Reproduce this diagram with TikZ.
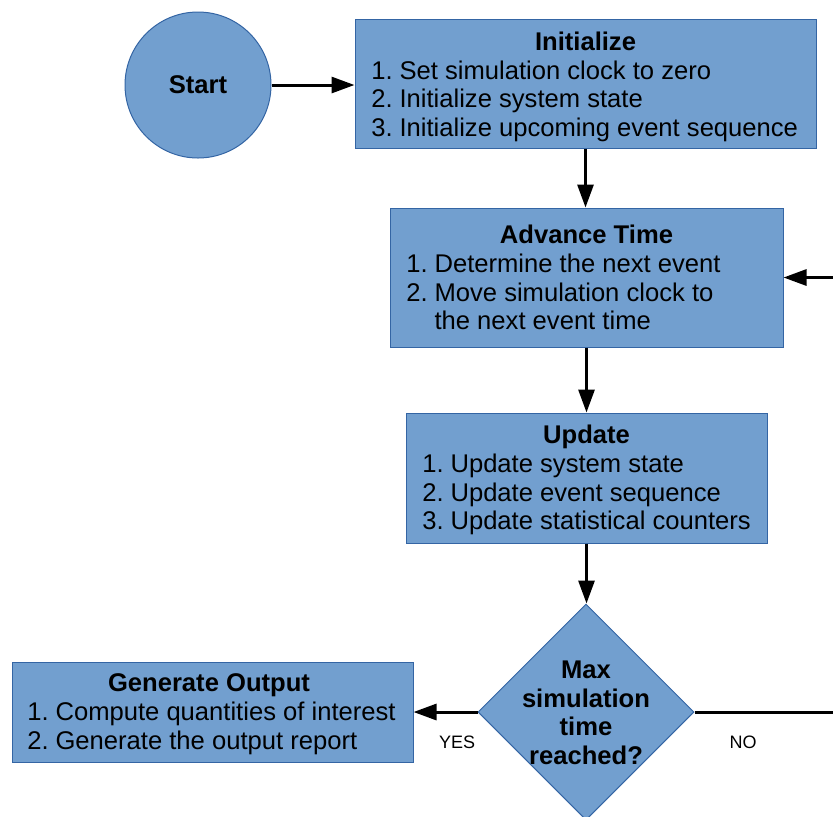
\documentclass[tikz,border=0pt]{standalone}
\usepackage{fontspec}
\setmainfont{Liberation Sans}
\usetikzlibrary{arrows.meta,shapes.geometric}
\definecolor{boxfill}{HTML}{729FCF}
\definecolor{boxline}{HTML}{3465A4}
\tikzset{
  shapebox/.style={draw=boxline, fill=boxfill, line width=0.5pt, inner sep=0pt, rectangle},
  circbox/.style={draw=boxline, fill=boxfill, line width=0.5pt, inner sep=0pt, circle, font=\fontsize{12.8}{14.25}\selectfont\bfseries},
  decbox/.style={draw=boxline, fill=boxfill, line width=0.5pt, inner sep=0pt, diamond},
  dectext/.style={inner sep=0pt, align=center, font=\fontsize{12.8}{14.25}\selectfont\bfseries},
  titletext/.style={inner sep=0pt, anchor=base, font=\fontsize{12.8}{14.25}\selectfont\bfseries},
  listtext/.style={inner sep=0pt, anchor=base west, font=\fontsize{12.8}{14.25}\selectfont},
  lbl/.style={inner sep=0pt, font=\fontsize{9}{10}\selectfont},
  arr/.style={line width=1.5pt, -{Triangle[length=11.5pt,width=8pt]}},
}
\newcommand{\lst}[1]{\begin{tabular}[t]{@{}l@{\hspace{3.4pt}}l@{}}#1\end{tabular}}
\begin{document}
\begin{tikzpicture}[x=0.5pt,y=-0.5pt]
\useasboundingbox (0,0) rectangle (833,816);
\clip (0,0) rectangle (833,816);
% shapes
\node[circbox, minimum size=73pt] (start) at (198,85) {Start};
\node[shapebox, minimum width=230.5pt, minimum height=64.5pt] (init) at (585.5,83.5) {};
\node[shapebox, minimum width=196.5pt, minimum height=69.5pt] (adv) at (586.5,277.5) {};
\node[shapebox, minimum width=180.5pt, minimum height=65pt] (upd) at (586.5,478) {};
\node[shapebox, minimum width=200.5pt, minimum height=50pt] (gen) at (212.5,712) {};
\node[decbox, minimum width=108pt, minimum height=108pt] (dec) at (586,712) {};
% texts
\node[dectext] (decT) at (586,713) {Max\\simulation\\time\\reached?};
\node[titletext] (initT) at (585.5,50.5) {Initialize};
\node[listtext] (initL) at (371,79) {\lst{1.&Set simulation clock to zero\\2.&Initialize system state\\3.&Initialize upcoming event sequence}};
\node[titletext] (advT) at (586.5,243.5) {Advance Time};
\node[listtext] (advL) at (406,272.5) {\lst{1.&Determine the next event\\2.&Move simulation clock to\\&the next event time}};
\node[titletext] (updT) at (586.5,443.5) {Update};
\node[listtext] (updL) at (422,472.5) {\lst{1.&Update system state\\2.&Update event sequence\\3.&Update statistical counters}};
\node[titletext] (genT) at (209,691.5) {Generate Output};
\node[listtext] (genL) at (27,720.5) {\lst{1.&Compute quantities of interest\\2.&Generate the output report}};
% connectors
\draw[arr] (start.east) -- (start.east -| init.west);
\draw[arr] (init.south) -- (init.south |- adv.north);
\draw[arr] (adv.south) -- (adv.south |- upd.north);
\draw[arr] (upd.south) -- (upd.south |- dec.north);
\draw[arr] (dec.west) -- (dec.west -| gen.east);
\coordinate (loopc) at (850,712);
\draw[arr] (dec.east) -- (loopc) |- (adv.east);
% labels
\node[lbl] (yes) at (457,742) {YES};
\node[lbl] (no) at (743,742) {NO};
\end{tikzpicture}
\end{document}
